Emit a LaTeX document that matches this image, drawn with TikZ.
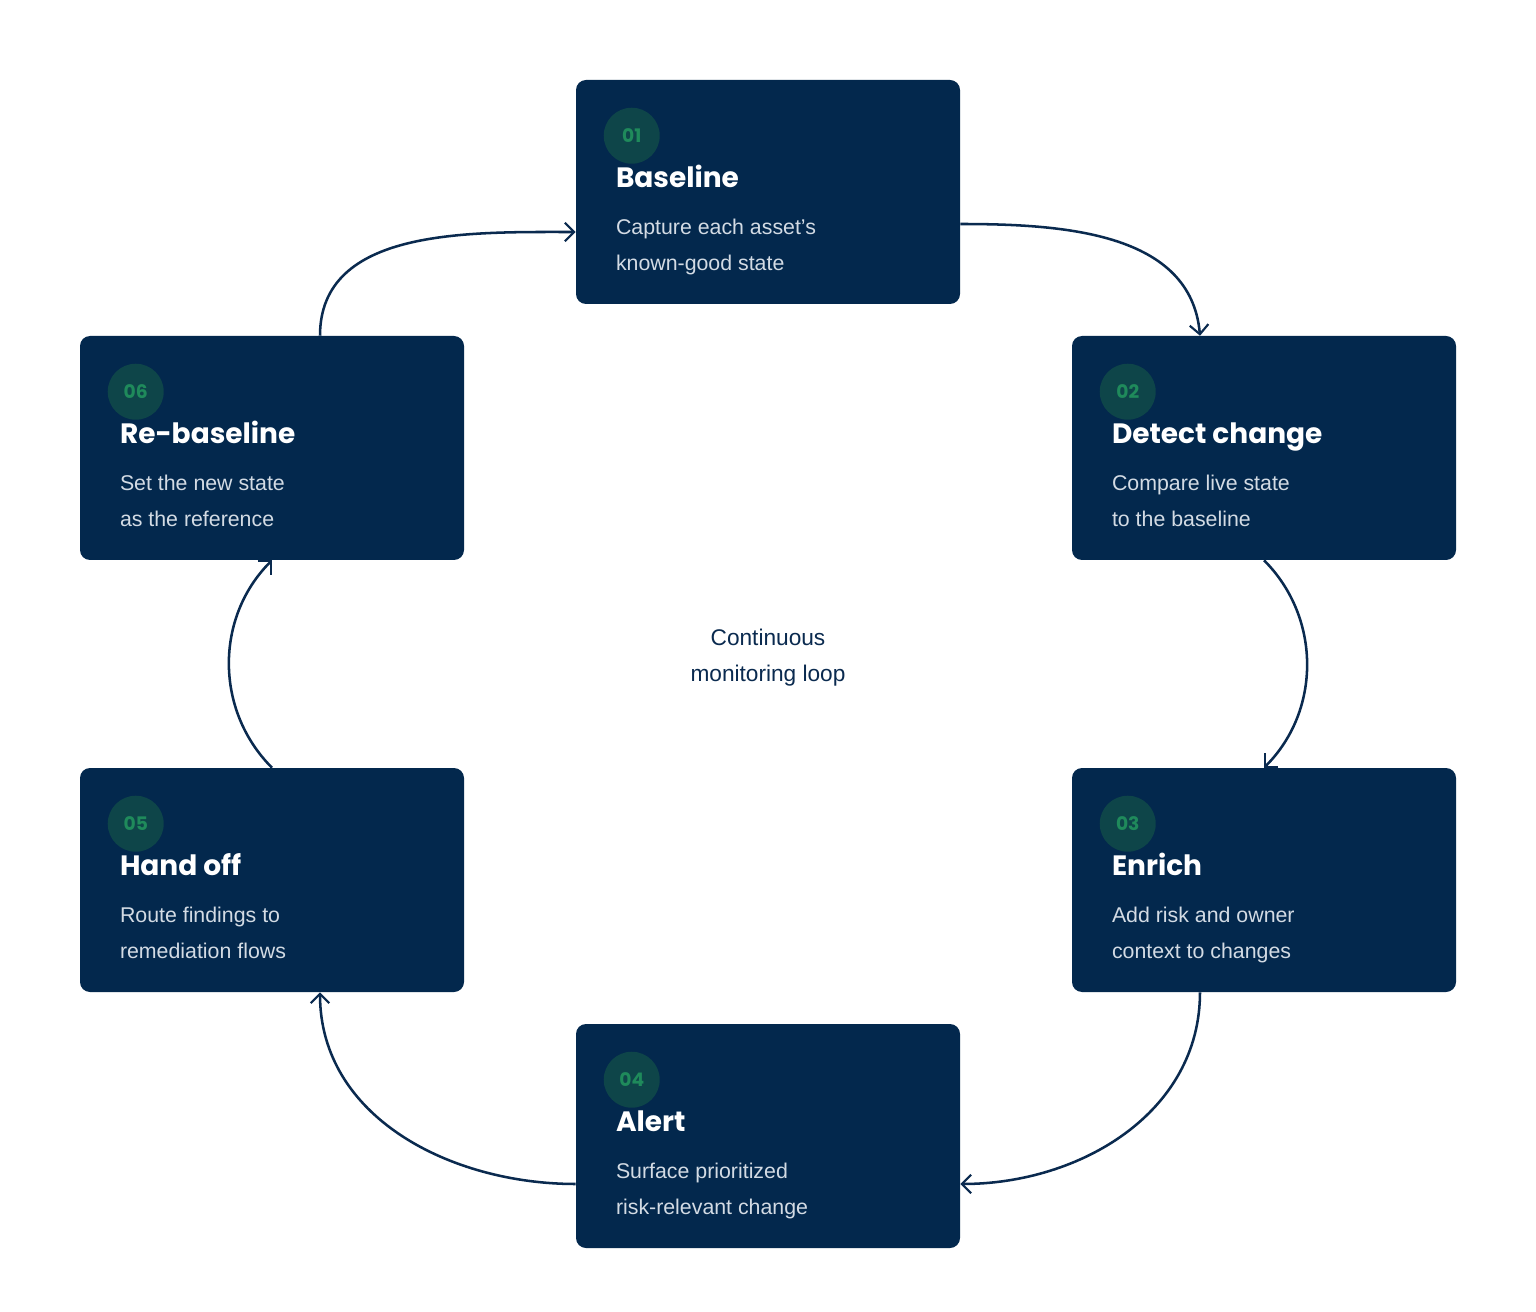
\documentclass[tikz,border=0pt]{standalone}
\usepackage{fontspec}
\setmainfont{Liberation Sans}
\newfontfamily\titlefont{Poppins}
\usetikzlibrary{arrows.meta,calc}
\definecolor{boxc}{HTML}{03284D}
\definecolor{badgec}{HTML}{0E4549}
\definecolor{numc}{HTML}{1F8A5B}
\definecolor{bodyc}{HTML}{D3DBE4}
\definecolor{linec}{HTML}{0A2A4F}
\tikzset{
 stepbox/.style={fill=boxc,rounded corners=7.5pt,minimum width=288pt,minimum height=168pt,inner sep=0pt},
 badge/.style={circle,fill=badgec,minimum size=42pt,inner sep=0pt,text=numc,font=\titlefont\bfseries\fontsize{14}{14}\selectfont},
 ttl/.style={anchor=base west,text=white,inner sep=0pt,font=\titlefont\bfseries\fontsize{21}{21}\selectfont},
 bdy/.style={anchor=base west,text=bodyc,inner sep=0pt,align=left,font=\fontsize{16}{27}\selectfont},
 conn/.style={draw=linec,line width=1.9pt,-{Straight Barb[length=7pt,width=14pt,line width=1.6pt]}}
}
\newcommand{\stepnode}[6]{%
 \node[stepbox] (#1) at (#2) {};
 \node[badge] (#1n) at ($(#1.north west)+(42pt,-42pt)$) {#3};
 \node[ttl] (#1t) at ($(#1.north west)+(30pt,-81pt)$) {#4};
 \node[bdy] (#1a) at ($(#1.north west)+(30pt,-116pt)$) {#5};
 \node[bdy] (#1b) at ($(#1.north west)+(30pt,-143pt)$) {#6};
}
\begin{document}
\begin{tikzpicture}[x=0.75pt,y=-0.75pt]
\useasboundingbox[fill=white] (0,0) rectangle (1536,1312);
\stepnode{s1}{768,192}{01}{Baseline}{Capture each asset's}{known-good state}
\stepnode{s2}{1264,448}{02}{Detect change}{Compare live state}{to the baseline}
\stepnode{s3}{1264,880}{03}{Enrich}{Add risk and owner}{context to changes}
\stepnode{s4}{768,1136}{04}{Alert}{Surface prioritized}{risk-relevant change}
\stepnode{s5}{272,880}{05}{Hand off}{Route findings to}{remediation flows}
\stepnode{s6}{272,448}{06}{Re-baseline}{Set the new state}{as the reference}
\node[text=linec,align=center,font=\fontsize{17}{27}\selectfont] (c) at (768,658) {Continuous\\monitoring loop};
\coordinate (a1) at ($(s1.east)+(0,-24pt)$);
\coordinate (a2) at ($(s2.north)+(-48pt,0)$);
\coordinate (b2) at ($(s2.south)$);
\coordinate (b3) at ($(s3.north)$);
\coordinate (c3) at ($(s3.south)+(-48pt,0)$);
\coordinate (c4) at ($(s4.east)+(0,-36pt)$);
\coordinate (d4) at ($(s4.west)+(0,-36pt)$);
\coordinate (d5) at ($(s5.south)+(36pt,0)$);
\coordinate (e5) at ($(s5.north)$);
\coordinate (e6) at ($(s6.south)$);
\coordinate (f6) at ($(s6.north)+(36pt,0)$);
\coordinate (f1) at ($(s1.west)+(0,-30pt)$);
\draw[conn] (a1) to[out=0,in=95] (a2);
\draw[conn] (b2) to[out=-45,in=45] (b3);
\draw[conn] (c3) to[out=-90,in=0] (c4);
\draw[conn] (d4) to[out=180,in=-90] (d5);
\draw[conn] (e5) to[out=135,in=-135] (e6);
\draw[conn] (f6) to[out=90,in=180] (f1);
\end{tikzpicture}
\end{document}
